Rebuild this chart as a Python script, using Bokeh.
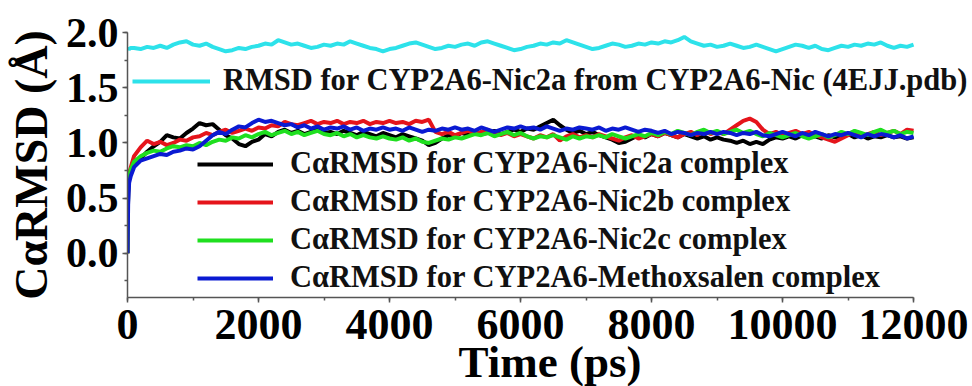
from bokeh.plotting import figure
from bokeh.models import Range1d, SingleIntervalTicker, PrintfTickFormatter, Legend, LegendItem
from bokeh.embed import file_html
from bokeh.resources import INLINE

# ---- data ----
time_ps = [0, 10, 25, 50] + list(range(100, 12001, 100))

rmsd_ref_4ejj = [1.85, 1.86, 1.85, 1.86,
    1.86, 1.85, 1.87, 1.86, 1.88, 1.86, 1.89, 1.91, 1.92, 1.89,
    1.88, 1.90, 1.87, 1.85, 1.83, 1.84, 1.86, 1.85, 1.87, 1.88,
    1.90, 1.89, 1.93, 1.91, 1.89, 1.90, 1.88, 1.86, 1.87, 1.89,
    1.88, 1.90, 1.89, 1.92, 1.90, 1.88, 1.86, 1.85, 1.83, 1.85,
    1.86, 1.88, 1.90, 1.91, 1.89, 1.87, 1.85, 1.86, 1.88, 1.87,
    1.89, 1.90, 1.88, 1.91, 1.92, 1.90, 1.88, 1.86, 1.84, 1.85,
    1.87, 1.88, 1.90, 1.89, 1.91, 1.90, 1.93, 1.91, 1.89, 1.87,
    1.85, 1.86, 1.88, 1.90, 1.89, 1.87, 1.88, 1.90, 1.89, 1.91,
    1.90, 1.92, 1.91, 1.93, 1.96, 1.92, 1.90, 1.88, 1.89, 1.87,
    1.88, 1.90, 1.88, 1.86, 1.87, 1.89, 1.87, 1.85, 1.83, 1.85,
    1.87, 1.89, 1.88, 1.86, 1.88, 1.85, 1.84, 1.86, 1.88, 1.87,
    1.89, 1.88, 1.90, 1.89, 1.91, 1.88, 1.86, 1.88, 1.87, 1.89]

ca_nic2a = [0.00, 0.55, 0.68, 0.74,
    0.80, 0.86, 0.92, 0.97, 1.01, 1.07, 1.05, 1.04, 1.09, 1.13,
    1.18, 1.16, 1.17, 1.12, 1.07, 1.04, 0.99, 0.97, 1.01, 1.03,
    1.08, 1.06, 1.10, 1.12, 1.09, 1.11, 1.08, 1.10, 1.12, 1.09,
    1.10, 1.08, 1.11, 1.09, 1.07, 1.10, 1.08, 1.06, 1.09, 1.07,
    1.05, 1.08, 1.06, 1.04, 1.02, 0.98, 1.00, 1.04, 1.07, 1.06,
    1.09, 1.07, 1.10, 1.08, 1.09, 1.11, 1.08, 1.10, 1.12, 1.10,
    1.13, 1.12, 1.15, 1.18, 1.21, 1.16, 1.12, 1.09, 1.11, 1.08,
    1.10, 1.07, 1.05, 1.03, 1.00, 1.01, 1.04, 1.07, 1.05, 1.08,
    1.06, 1.09, 1.07, 1.05, 1.08, 1.06, 1.04, 1.06, 1.03, 1.05,
    1.03, 1.02, 1.00, 1.02, 0.99, 1.01, 0.99, 1.03, 1.05, 1.04,
    1.06, 1.04, 1.07, 1.05, 1.06, 1.04, 1.07, 1.05, 1.06, 1.08,
    1.05, 1.07, 1.04, 1.06, 1.05, 1.07, 1.05, 1.06, 1.04, 1.05]

ca_nic2b = [0.00, 0.60, 0.72, 0.78,
    0.88, 0.96, 1.02, 0.99, 1.01, 0.98, 1.00, 1.03, 1.02, 1.05,
    1.06, 1.09, 1.07, 1.10, 1.12, 1.09, 1.11, 1.13, 1.11, 1.14,
    1.13, 1.16, 1.15, 1.19, 1.17, 1.16, 1.18, 1.20, 1.17, 1.19,
    1.18, 1.20, 1.17, 1.19, 1.18, 1.20, 1.17, 1.19, 1.18, 1.20,
    1.18, 1.19, 1.17, 1.20, 1.19, 1.21, 1.10, 1.08, 1.10, 1.07,
    1.09, 1.11, 1.08, 1.10, 1.12, 1.09, 1.07, 1.09, 1.06, 1.08,
    1.06, 1.04, 1.07, 1.05, 1.08, 1.02, 1.06, 1.08, 1.05, 1.07,
    1.05, 1.08, 1.06, 1.04, 1.02, 1.05, 1.07, 1.04, 1.06, 1.08,
    1.06, 1.09, 1.07, 1.05, 1.08, 1.10, 1.07, 1.11, 1.08, 1.10,
    1.08, 1.12, 1.16, 1.20, 1.22, 1.19, 1.12, 1.08, 1.10, 1.07,
    1.09, 1.11, 1.08, 1.10, 1.07, 1.05, 1.03, 1.01, 1.04, 1.07,
    1.09, 1.06, 1.08, 1.10, 1.07, 1.09, 1.11, 1.08, 1.12, 1.11]

ca_nic2c = [0.00, 0.58, 0.70, 0.76,
    0.83, 0.88, 0.91, 0.93, 0.92, 0.95, 0.97, 0.96, 0.98, 0.97,
    1.00, 0.98, 1.01, 1.03, 1.02, 1.05, 1.04, 1.07, 1.05, 1.08,
    1.10, 1.07, 1.09, 1.11, 1.08, 1.10, 1.07, 1.09, 1.11, 1.08,
    1.07, 1.09, 1.06, 1.08, 1.05, 1.07, 1.05, 1.04, 1.06, 1.04,
    1.03, 1.05, 1.02, 1.04, 1.01, 1.00, 1.02, 1.04, 1.03, 1.05,
    1.04, 1.06, 1.08, 1.07, 1.09, 1.06, 1.08, 1.10, 1.07, 1.09,
    1.06, 1.04, 1.06, 1.05, 1.07, 1.05, 1.03, 1.06, 1.04, 1.06,
    1.05, 1.07, 1.05, 1.08, 1.06, 1.04, 1.06, 1.08, 1.06, 1.09,
    1.07, 1.10, 1.08, 1.11, 1.09, 1.07, 1.10, 1.12, 1.09, 1.11,
    1.08, 1.10, 1.12, 1.09, 1.11, 1.08, 1.06, 1.09, 1.07, 1.05,
    1.07, 1.09, 1.06, 1.04, 1.06, 1.08, 1.05, 1.07, 1.10, 1.08,
    1.11, 1.09, 1.07, 1.10, 1.12, 1.09, 1.11, 1.08, 1.10, 1.09]

ca_methoxsalen = [0.00, 0.45, 0.64, 0.70,
    0.78, 0.84, 0.86, 0.88, 0.90, 0.89, 0.92, 0.93, 0.95, 0.94,
    0.97, 1.02, 1.07, 1.10, 1.08, 1.12, 1.15, 1.14, 1.18, 1.21,
    1.19, 1.20, 1.18, 1.16, 1.17, 1.14, 1.16, 1.13, 1.15, 1.12,
    1.14, 1.13, 1.15, 1.12, 1.14, 1.11, 1.13, 1.12, 1.14, 1.12,
    1.13, 1.11, 1.14, 1.12, 1.10, 1.12, 1.11, 1.13, 1.12, 1.14,
    1.12, 1.13, 1.11, 1.14, 1.12, 1.10, 1.12, 1.14, 1.13, 1.15,
    1.13, 1.14, 1.12, 1.15, 1.13, 1.11, 1.13, 1.12, 1.14, 1.13,
    1.12, 1.14, 1.11, 1.13, 1.12, 1.14, 1.12, 1.10, 1.12, 1.11,
    1.09, 1.11, 1.08, 1.10, 1.09, 1.07, 1.09, 1.08, 1.10, 1.08,
    1.10, 1.09, 1.07, 1.09, 1.08, 1.10, 1.07, 1.06, 1.08, 1.10,
    1.08, 1.06, 1.09, 1.07, 1.10, 1.08, 1.06, 1.08, 1.07, 1.09,
    1.07, 1.05, 1.08, 1.06, 1.08, 1.07, 1.05, 1.07, 1.04, 1.06]

label_ref = "RMSD for CYP2A6-Nic2a from CYP2A6-Nic (4EJJ.pdb)"
labels = ["C\u03b1RMSD for CYP2A6-Nic2a complex",
          "C\u03b1RMSD for CYP2A6-Nic2b complex",
          "C\u03b1RMSD for CYP2A6-Nic2c complex",
          "C\u03b1RMSD for CYP2A6-Methoxsalen complex"]
x_title = "Time (ps)"
y_title = "C\u03b1RMSD (\u00c5)"
x_ticks_step = 2000
y_ticks_step = 0.5

FONT = "Liberation Serif"

p = figure(frame_width=845, frame_height=265, output_backend="svg", toolbar_location=None,
           x_range=Range1d(0, 12900), y_range=Range1d(-0.4, 2.0),
           min_border_left=127, min_border_right=0, min_border_top=32,
           min_border_bottom=0)
p.outline_line_color = None
p.grid.visible = False
p.background_fill_color = "white"

LW = 4
r_ref = p.line(time_ps, rmsd_ref_4ejj, line_color="#2DE2EA", line_width=LW)
r_a = p.line(time_ps, ca_nic2a, line_color="#000000", line_width=LW)
r_b = p.line(time_ps, ca_nic2b, line_color="#E5141B", line_width=LW)
r_c = p.line(time_ps, ca_nic2c, line_color="#1FDF1F", line_width=LW)
r_d = p.line(time_ps, ca_methoxsalen, line_color="#0A1AD2", line_width=LW)

leg_common = dict(label_text_font=FONT, label_text_font_style="bold",
                  label_text_font_size="30.5px", label_text_color="#111111",
                  border_line_color=None, background_fill_alpha=0,
                  padding=0, margin=0, glyph_height=20)

leg1 = Legend(items=[LegendItem(label=label_ref, renderers=[r_ref])],
              location=(5, 199), glyph_width=78, label_standoff=13, **leg_common)
leg2 = Legend(items=[LegendItem(label=l, renderers=[r]) for l, r in
                     zip(labels, [r_a, r_b, r_c, r_d])],
              location=(70, 2), glyph_width=76, label_standoff=17, spacing=3,
              **leg_common)
p.add_layout(leg1)
p.add_layout(leg2)

p.xaxis.ticker = SingleIntervalTicker(interval=x_ticks_step, num_minor_ticks=2)
p.xaxis.bounds = (0, 12000)
p.yaxis.ticker = SingleIntervalTicker(interval=y_ticks_step, num_minor_ticks=2)
p.yaxis.bounds = (-0.4, 2.0)
p.yaxis.formatter = PrintfTickFormatter(format="%.1f")

p.xaxis.axis_label = x_title
p.yaxis.axis_label = y_title

for ax in (p.xaxis, p.yaxis):
    ax.axis_line_color = "#555555"
    ax.axis_line_width = 1.5
    ax.major_tick_line_color = "#555555"
    ax.minor_tick_line_color = "#555555"
    ax.major_tick_line_width = 1.5
    ax.minor_tick_line_width = 1.5
    ax.major_tick_out = 5
    ax.major_tick_in = 0
    ax.minor_tick_out = 3
    ax.minor_tick_in = 0
    ax.axis_label_text_font = FONT
    ax.axis_label_text_font_style = "bold"
    ax.axis_label_text_color = "black"
    ax.major_label_text_font = FONT
    ax.major_label_text_font_style = "bold"
    ax.major_label_text_color = "black"

p.xaxis.major_label_text_font_size = "44px"
p.xaxis.axis_label_text_font_size = "45px"
p.xaxis.major_label_standoff = 7
p.xaxis.axis_label_standoff = -5
p.yaxis.major_label_text_font_size = "42px"
p.yaxis.axis_label_text_font_size = "46px"
p.yaxis.major_label_standoff = 4
p.yaxis.axis_label_standoff = 6

open("out.html", "w").write(file_html(p, INLINE))
